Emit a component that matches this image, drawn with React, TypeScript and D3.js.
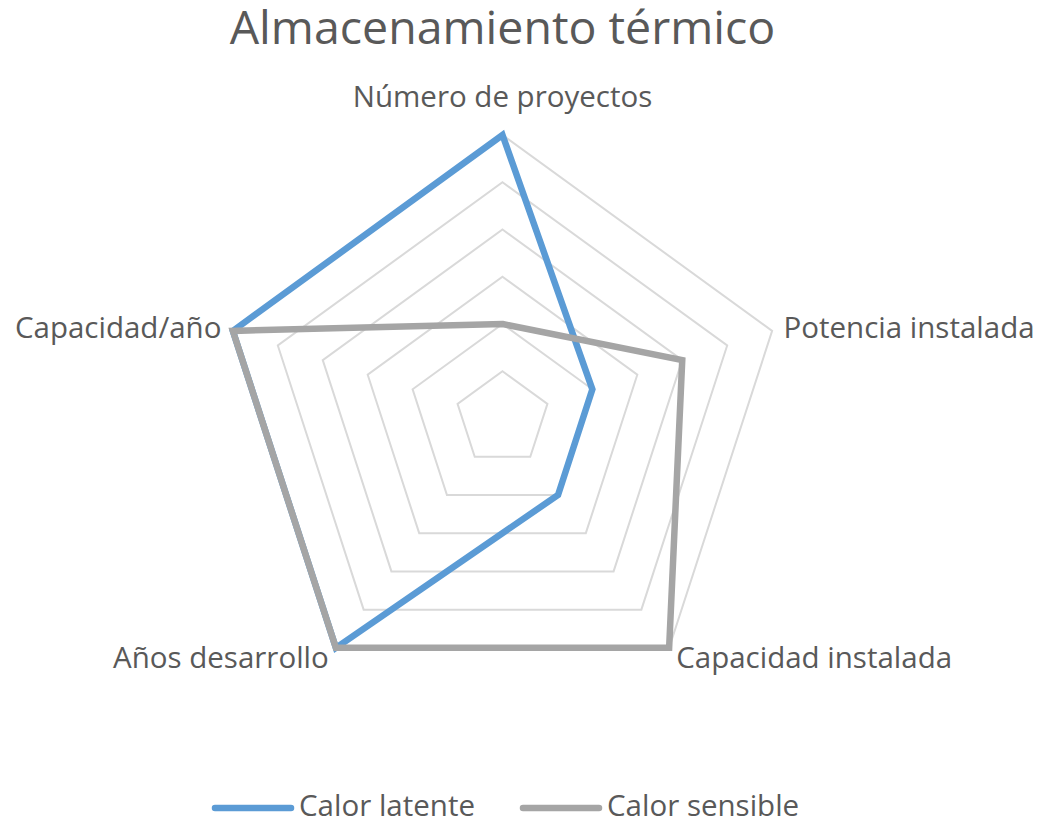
import { useMemo } from "react";
import * as d3 from "d3";

const WIDTH = 1043;
const HEIGHT = 824;
const FONT = "'Open Sans', 'Noto Sans', sans-serif";
const TEXT_COLOR = "#595959";

const categories = [
  "Número de proyectos",
  "Potencia instalada",
  "Capacidad instalada",
  "Años desarrollo",
  "Capacidad/año",
];
const calorLatente = [6, 2, 2, 6, 6];
const calorSensible = [2, 4, 6, 6, 6];
const seriesNames = ["Calor latente", "Calor sensible"];
const seriesColors = ["#5B9BD5", "#A5A5A5"];
const levels = [1, 2, 3, 4, 5, 6];

const CENTER = { x: 502.5, y: 418.5 };
const RADIUS = 283.5;

const App = () => {
  const angle = d3
    .scalePoint<string>()
    .domain(categories)
    .range([0, (2 * Math.PI * (categories.length - 1)) / categories.length]);
  const r = d3.scaleLinear().domain([0, 6]).range([0, RADIUS]);

  const radarLine = useMemo(
    () =>
      d3
        .lineRadial<number>()
        .angle((_, i) => angle(categories[i]) as number)
        .radius((d) => r(d))
        .curve(d3.curveLinearClosed),
    []
  );

  const series = [calorLatente, calorSensible];

  // axis labels sit just outside the outer ring
  const labels = categories.map((c) => {
    const a = angle(c) as number;
    const s = Math.sin(a);
    const rr = RADIUS + 12;
    const x = CENTER.x + rr * s;
    const y = CENTER.y - rr * Math.cos(a);
    const top = Math.abs(s) < 0.1;
    const anchor = top ? "middle" : s > 0 ? "start" : "end";
    return { c, x, y: top ? y - 16 : y, dy: top ? "0" : "0.35em", anchor };
  });

  const legendItems = [
    { x: 215, name: seriesNames[0], color: seriesColors[0] },
    { x: 523, name: seriesNames[1], color: seriesColors[1] },
  ];

  return (
    <svg
      width={WIDTH}
      height={HEIGHT}
      style={{ position: "absolute", left: 0, top: 0, background: "#fff" }}
      fontFamily={FONT}
    >
      <text
        x={CENTER.x}
        y={44}
        textAnchor="middle"
        fontSize={46.5}
        fill={TEXT_COLOR}
      >
        Almacenamiento térmico
      </text>

      <g transform={`translate(${CENTER.x},${CENTER.y})`}>
        {levels.map((lv) => (
          <path
            key={lv}
            d={radarLine(categories.map(() => lv)) || ""}
            fill="none"
            stroke="#D9D9D9"
            strokeWidth={2}
          />
        ))}
        {series.map((vals, i) => (
          <path
            key={seriesNames[i]}
            d={radarLine(vals) || ""}
            fill="none"
            stroke={seriesColors[i]}
            strokeWidth={6.5}
            strokeLinejoin="miter"
          />
        ))}
      </g>

      {labels.map((l) => (
        <text
          key={l.c}
          x={l.x}
          y={l.y}
          dy={l.dy}
          textAnchor={l.anchor}
          fontSize={29.5}
          fill={TEXT_COLOR}
        >
          {l.c}
        </text>
      ))}

      {legendItems.map((it) => (
        <g key={it.name} transform={`translate(${it.x},808)`}>
          <line
            x1={0}
            x2={76}
            y1={0}
            y2={0}
            stroke={it.color}
            strokeWidth={6.5}
            strokeLinecap="round"
          />
          <text x={84} y={8} fontSize={29.5} fill={TEXT_COLOR}>
            {it.name}
          </text>
        </g>
      ))}
    </svg>
  );
};

export default App;
